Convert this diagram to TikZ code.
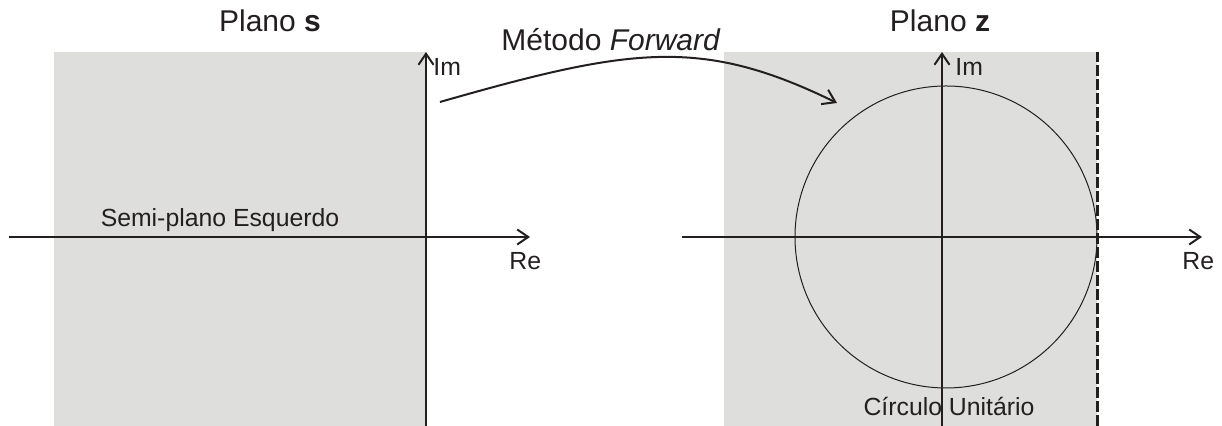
\documentclass[tikz,border=0pt]{standalone}
\usepackage{fontspec}
\setmainfont{Liberation Sans}
\usetikzlibrary{arrows.meta}
\definecolor{planegray}{RGB}{222,222,221}
\definecolor{inkblack}{RGB}{35,31,32}
\begin{document}
\begin{tikzpicture}[x=0.5pt, y=0.5pt, inkblack,
    axis/.style={-{Straight Barb[length=5.5pt, width=7.5pt]}, line width=1pt},
    title/.style={font=\fontsize{15}{18}\selectfont, anchor=base, inner sep=0pt},
    label/.style={font=\fontsize{12.4}{14}\selectfont, inner sep=0pt}]
    \useasboundingbox (0, 0) rectangle (1222, 426);

    % Shaded regions
    \fill[planegray] (54, 0) rectangle (426, 374);
    \fill[planegray] (724, 0) rectangle (1097, 374);

    % Define Axis Coordinates
    \coordinate (sB) at (426, 0);
    \coordinate (sT) at (426, 374);
    \coordinate (sL) at (9, 189);
    \coordinate (sR) at (530, 189);
    \coordinate (zB) at (942, 0);
    \coordinate (zT) at (942, 374);
    \coordinate (zL) at (682, 189);
    \coordinate (zR) at (1202, 189);
    \coordinate (zO) at (946, 189);

    % Stability boundary
    \coordinate (edgeB) at (1097.5, 0);
    \coordinate (edgeT) at (1097.5, 374);
    \draw[line width=1.5pt, dash pattern=on 5.5pt off 1.5pt] (edgeB) -- (edgeT);

    % Unit circle
    \draw[line width=0.5pt] (zO) circle[radius=151];

    % Axes
    \draw[axis] (sB) -- (sT);
    \draw[axis] (sL) -- (sR);
    \draw[axis] (zB) -- (zT);
    \draw[axis] (zL) -- (zR);

    % Axis labels
    \node[label, anchor=base west] (sIm) at (433, 350) {Im};
    \node[label, anchor=base west] (sRe) at (509, 156) {Re};
    \node[label, anchor=base west] (zIm) at (955, 350) {Im};
    \node[label, anchor=base west] (zRe) at (1182, 156) {Re};

    % Region labels
    \node[label, anchor=base] (leftHalf) at (220, 199) {Semi-plano Esquerdo};
    \node[label, anchor=base] (unitCircle) at (949, 10) {Círculo Unitário};

    % Titles
    \node[title] (sPlane) at (270, 394) {Plano \textbf{s}};
    \node[title] (zPlane) at (940, 394) {Plano \textbf{z}};
    \node[title] (method) at (611, 375) {Método \textit{Forward}};

    % Mapping arrow
    \coordinate (mapFrom) at (440, 324);
    \coordinate (mapTo) at (837, 323);
    \draw[-{Straight Barb[length=6pt, width=8pt]}, line width=1pt]
        (mapFrom) .. controls (632, 379) and (702, 389) .. (mapTo);
\end{tikzpicture}
\end{document}
